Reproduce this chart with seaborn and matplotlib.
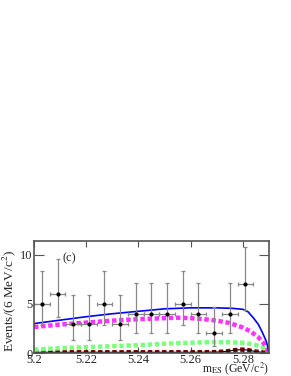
import numpy as np
import pandas as pd
import matplotlib
matplotlib.use("Agg")
import matplotlib.pyplot as plt
import seaborn as sns

# data points (6 MeV bins)
bin_centers = [5.203, 5.209, 5.215, 5.221, 5.227, 5.233, 5.239,
               5.245, 5.251, 5.257, 5.263, 5.269, 5.275, 5.281]
events = [5, 6, 3, 3, 5, 3, 4, 4, 4, 5, 4, 2, 4, 7]
err_low = [2.16, 2.38, 1.63, 1.63, 2.16, 1.63, 1.91,
           1.91, 1.91, 2.16, 1.91, 1.29, 1.91, 2.58]
err_high = [3.38, 3.58, 2.92, 2.92, 3.38, 2.92, 3.16,
            3.16, 3.16, 3.38, 3.16, 2.64, 3.16, 3.77]
half_bin = 0.003

# fit curves
total_x = [5.200, 5.210, 5.220, 5.230, 5.240, 5.250, 5.260, 5.270, 5.276,
           5.280, 5.282, 5.284, 5.286, 5.2875, 5.289, 5.2897, 5.290]
total_y = [3.0, 3.35, 3.7, 4.0, 4.25, 4.5, 4.6, 4.6, 4.55,
           4.45, 4.2, 3.6, 2.9, 2.1, 1.2, 0.5, 0.0]

bkg_x = [5.200, 5.210, 5.220, 5.230, 5.240, 5.250, 5.255, 5.260, 5.265,
         5.270, 5.275, 5.280, 5.283, 5.286, 5.288, 5.2893, 5.290]
bkg_y = [2.65, 2.9, 3.1, 3.3, 3.45, 3.55, 3.6, 3.55, 3.45,
         3.3, 3.05, 2.6, 2.2, 1.6, 1.0, 0.5, 0.0]

bb_x = [5.200, 5.210, 5.220, 5.230, 5.240, 5.250, 5.260, 5.265, 5.270,
        5.275, 5.280, 5.284, 5.287, 5.289, 5.290]
bb_y = [0.35, 0.5, 0.6, 0.7, 0.8, 0.95, 1.05, 1.1, 1.1,
        1.1, 1.05, 0.9, 0.65, 0.35, 0.0]

sig_x = [5.200, 5.220, 5.240, 5.260, 5.270, 5.274, 5.277, 5.2795,
         5.282, 5.285, 5.288, 5.290]
sig_y = [0.08, 0.08, 0.08, 0.08, 0.1, 0.18, 0.3, 0.35,
         0.3, 0.15, 0.06, 0.0]

sns.set_theme(style="ticks")
plt.rcParams["font.family"] = ["Liberation Serif", "DejaVu Serif"]
plt.rcParams["mathtext.fontset"] = "stix"

fig = plt.figure(figsize=(2.91, 3.76), dpi=100)
ax = fig.add_axes([0.117, 0.061, 0.807, 0.298])

sns.lineplot(x=sig_x, y=sig_y, ax=ax, color="#7a0000", lw=3.2,
             linestyle=(0, (1, 0.6)))
sns.lineplot(x=sig_x, y=sig_y, ax=ax, color="black", lw=0.8)
sns.lineplot(x=bb_x, y=bb_y, ax=ax, color="#7dff7d", lw=3.2,
             linestyle=(0, (1, 0.6)))
sns.lineplot(x=bkg_x, y=bkg_y, ax=ax, color="#ff33ff", lw=3.2,
             linestyle=(0, (1, 0.6)))
sns.lineplot(x=total_x, y=total_y, ax=ax, color="#0000ff", lw=1.2)

ax.errorbar(bin_centers, events, xerr=half_bin, yerr=[err_low, err_high],
            fmt="none", ecolor="#888888", elinewidth=0.9, capsize=1.5,
            capthick=0.9)
sns.scatterplot(x=bin_centers, y=events, ax=ax, color="black", marker="o",
                s=9, linewidth=0, zorder=5)

ax.set_xlim(5.2, 5.29)
ax.set_ylim(0, 11.4)
ax.set_xticks([5.2, 5.22, 5.24, 5.26, 5.28])
ax.set_xticklabels(["5.2", "5.22", "5.24", "5.26", "5.28"])
ax.set_yticks([0, 5, 10])
ax.tick_params(axis="both", direction="in", top=True, right=True,
               labelsize=9, pad=1, color="#555555", width=0.8)
ax.tick_params(axis="x", length=4)
ax.tick_params(axis="y", length=7)
for sp in ax.spines.values():
    sp.set_color("#555555")
    sp.set_linewidth(1.2)

ax.text(5.211, 9.6, "(c)", fontsize=9, ha="left", va="center")
ax.set_ylabel("Events/(6 MeV/c$^2$)", fontsize=9.5)
ax.yaxis.set_label_coords(-0.068, 0.47)
ax.set_xlabel("m$_{\\rm ES}$ (GeV/c$^2$)", fontsize=8.5, ha="right")
ax.xaxis.set_label_coords(1.0, -0.065)

fig.savefig("out.png", dpi=100)
